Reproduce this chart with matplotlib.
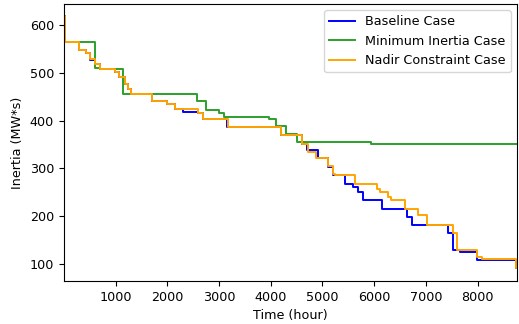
import numpy as np
import matplotlib
matplotlib.use("Agg")
import matplotlib.pyplot as plt

# step change points (hour, inertia in MW*s)
base_hours = [1, 30, 296, 438, 516, 600, 700, 986, 1070, 1180, 1245, 1290, 1700, 1990, 2146, 2300,
              2597, 2694, 3150, 4190, 4597, 4706, 4919, 5112, 5209, 5435, 5595, 5693, 5788, 6143,
              6627, 6724, 7432, 7529, 7650, 7993, 8740, 8760]
base_vals = [618, 565, 548, 541, 527, 519, 509, 501, 491, 477, 467, 455, 442, 435, 424, 418,
             415, 404, 386, 371, 352, 338, 321, 303, 286, 268, 261, 251, 234, 216,
             199, 181, 165, 129, 126, 108, 91, 91]

mininertia_hours = [1, 30, 600, 700, 1147, 1290, 2566, 2740, 3003, 3100, 3960, 4112, 4293, 4500,
                    5946, 8760]
mininertia_vals = [618, 565, 511, 509, 456, 455, 441, 423, 417, 408, 404, 388, 373, 355,
                   352, 352]

nadir_hours = [1, 30, 296, 438, 516, 600, 700, 986, 1070, 1180, 1245, 1290, 1700, 1990, 2146,
               2597, 2694, 3178, 4190, 4597, 4725, 4870, 5112, 5200, 5241, 5628, 6047, 6110,
               6272, 6330, 6594, 6853, 7020, 7529, 7610, 7980, 8077, 8740, 8760]
nadir_vals = [618, 565, 548, 541, 530, 519, 509, 501, 491, 477, 467, 455, 442, 435, 424,
              415, 404, 386, 371, 352, 335, 321, 305, 289, 286, 267, 258, 251,
              241, 234, 216, 202, 181, 164, 129, 115, 110, 91, 91]

plt.rcParams['font.size'] = 9.2

fig = plt.figure(figsize=(5.19, 3.24), dpi=100)
ax = fig.add_axes([0.123, 0.133, 0.873, 0.855])

ax.step(base_hours, base_vals, where='post', color='blue', lw=1.4, label='Baseline Case')
ax.step(mininertia_hours, mininertia_vals, where='post', color='tab:green', lw=1.4,
        label='Minimum Inertia Case')
ax.step(nadir_hours, nadir_vals, where='post', color='orange', lw=1.4,
        label='Nadir Constraint Case')

ax.set_xlim(base_hours[0], base_hours[-1])
ax.set_xlabel('Time (hour)')
ax.set_ylabel('Inertia (MW*s)')
ax.legend(loc='upper right')

fig.savefig('out.png')
